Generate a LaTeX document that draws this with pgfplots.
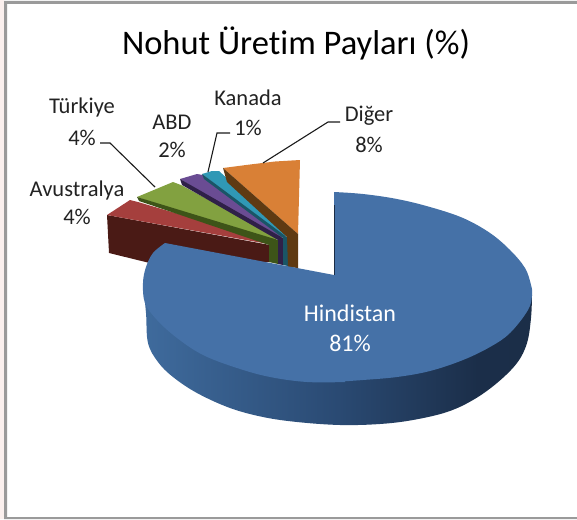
\documentclass[border=0pt]{standalone}
\usepackage{pgfplots}
\pgfplotsset{compat=1.18}
\usepackage{fontspec}
\setmainfont{Carlito}[Ligatures=NoCommon]
\definecolor{bluetop}{HTML}{4571A7}
\definecolor{redtop}{HTML}{A53F3D}
\definecolor{redside}{HTML}{4A1A15}
\definecolor{greentop}{HTML}{82A140}
\definecolor{greenside}{HTML}{3D5418}
\definecolor{purtop}{HTML}{6A4C93}
\definecolor{purside}{HTML}{2F2048}
\definecolor{tealtop}{HTML}{3098B5}
\definecolor{tealside}{HTML}{1A5566}
\definecolor{ortop}{HTML}{D98036}
\definecolor{orside}{HTML}{5F3A12}
\definecolor{framec}{HTML}{9A9A9A}
\definecolor{pinkedge}{HTML}{FBF0EE}
\definecolor{txt}{HTML}{222222}
\definecolor{leader}{HTML}{1A1A1A}
\definecolor{wallA}{HTML}{3F6B9D}
\definecolor{wallB}{HTML}{2A4A73}
\definecolor{wallC}{HTML}{1B2E49}
\definecolor{wallD}{HTML}{1A2C45}
\pgfdeclarehorizontalshading{wall}{100bp}{
 color(0bp)=(wallA);
 color(25bp)=(wallA);
 color(50bp)=(wallB);
 color(68bp)=(wallC);
 color(100bp)=(wallD)}
\tikzset{lab/.style={font=\fontsize{22.5}{22.5}\selectfont,text=txt,align=center,inner sep=0pt,anchor=center}}
\begin{document}
\begin{tikzpicture}
\begin{axis}[
  width=577pt,height=519pt,scale only axis,
  xmin=0,xmax=577,ymin=0,ymax=519,y dir=reverse,
  axis lines=none,clip=false,
]
% outside edge and frame
\addplot[fill=pinkedge,draw=none] coordinates {(0,0)(4,0)(4,519)(0,519)(0,0)};
\addplot[fill=framec,draw=none] coordinates {(4,1)(577,1)(577,4)(7,4)(7,519)(4,519)(4,1)};
\addplot[fill=framec,draw=none] coordinates {(7,517)(577,517)(577,519)(7,519)(7,517)};
% red
\addplot[fill=redside,draw=none] coordinates {(107,215)(109,253)(170,268)(270,262)(270,245)(107,215)};
\addplot[fill=redtop,draw=none] coordinates {(107,215)(130,200)(138,202)(270,241)(268,244)(107,215)};
% green
\addplot[fill=greentop,draw=none] coordinates {(137,197)(173,182)(181,185)(279,238)(270,243)(137,197)};
\addplot[fill=greenside,draw=none] coordinates {(137,197)(139,201)(269,245)(269,262)(278,264)(278,240)(137,197)};
% purple
\addplot[fill=purtop,draw=none] coordinates {(180,179)(197,174)(203,175)(284,235)(278,239)(180,179)};
\addplot[fill=purside,draw=none] coordinates {(180,179)(182,185)(278,240)(278,264)(283,265)(283,238)(180,179)};
% teal
\addplot[fill=tealtop,draw=none] coordinates {(202,174)(212,171)(219,171)(288,234)(283,237)(202,174)};
\addplot[fill=tealside,draw=none] coordinates {(202,174)(204,179)(283,238)(283,265)(288,266)(288,238)(202,174)};
% orange
\addplot[fill=ortop,draw=none] coordinates {(223,168)(250,164.5)(275,161.5)(300,160)(298,234)(223,168)};
\addplot[fill=orside,draw=none] coordinates {(223,168)(227,182)(287,237)(288,267)(298,268)(298,234)(223,168)};
% blue wall
\addplot[shading=wall,draw=none,smooth,tension=0.6] coordinates {(143,285)(146,313)(148,343)(158,362)(173,377)(197,393)(230,408)(263,417)(297,422)(340,425)(380,424)(413,420)(447,412)(473,400)(497,383)(517,363)(527,343)(531,318)(532,295)};
% blue top: right part, left part, and the wedge towards the hub
\addplot[fill=bluetop,draw=none,smooth,tension=0.6] coordinates {(334,192)(363,194)(397,199)(430,207)(463,218)(490,233)(510,250)(525,268)(531,285)(532,295)(528,310)(510,333)(490,347)(463,360)(430,371)(397,377)(363,380)(334,382)};
\addplot[fill=bluetop,draw=none,smooth,tension=0.6] coordinates {(345,382)(307,382)(270,377)(237,368)(203,355)(177,338)(157,320)(145,303)(143,283)(146,267)(153,253)(165,243)};
\addplot[fill=bluetop,draw=none] coordinates {(165,243)(334,275)(345,382)(250,340)(160,262)(165,243)};
\addplot[draw=wallD,line width=0.7pt] coordinates {(334,205)(334,275)};
% leaders
\addplot[draw=leader,line width=1.1pt] coordinates {(100,143)(110,143)(155,187)};
\addplot[draw=leader,line width=1.1pt] coordinates {(230,133)(217,133)(208,172)};
\addplot[draw=leader,line width=1.1pt] coordinates {(263,163)(328,122)(340,122)};
% text
\node[font=\fontsize{34.5}{34.5}\selectfont,text=black,inner sep=0pt] at (axis cs:296,43) {Nohut Üretim Payları (\%)};
\node[lab] at (axis cs:82,108) {Türkiye};
\node[lab] at (axis cs:82,138) {4\%};
\node[lab] at (axis cs:172,122) {ABD};
\node[lab] at (axis cs:172,150) {2\%};
\node[lab] at (axis cs:248,98) {Kanada};
\node[lab] at (axis cs:248,128) {1\%};
\node[lab] at (axis cs:77,190) {Avustralya};
\node[lab] at (axis cs:77,217) {4\%};
\node[lab] at (axis cs:369,116) {Diğer};
\node[lab] at (axis cs:369,145) {8\%};
\node[lab,text=white,font=\fontsize{24}{24}\selectfont] at (axis cs:350,313) {Hindistan};
\node[lab,text=white,font=\fontsize{24}{24}\selectfont] at (axis cs:350,343) {81\%};
\end{axis}
\end{tikzpicture}
\end{document}
